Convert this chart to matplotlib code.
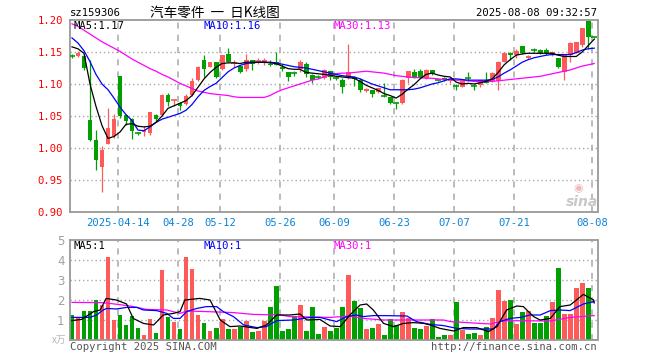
import matplotlib
matplotlib.use("Agg")
import matplotlib.pyplot as plt
import numpy as np

W, H = 660, 360

# ---- daily candles (index 0 = first bar on chart) ----
opens = [1.145, 1.143, 1.143, 1.044, 1.012, 0.971, 1.007, 1.018, 1.112, 1.052,
         1.045, 1.024, 1.025, 1.023, 1.052, 1.052, 1.083, 1.074, 1.071, 1.069,
         1.083, 1.106, 1.137, 1.127, 1.134, 1.123, 1.147, 1.132, 1.128, 1.123,
         1.137, 1.135, 1.134, 1.132, 1.134, 1.127, 1.119, 1.118, 1.123, 1.131,
         1.114, 1.112, 1.109, 1.120, 1.111, 1.107, 1.109, 1.111, 1.107, 1.089,
         1.091, 1.087, 1.083, 1.079, 1.071, 1.071, 1.109, 1.119, 1.121, 1.110,
         1.122, 1.107, 1.109, 1.104, 1.098, 1.096, 1.110, 1.098, 1.098, 1.106,
         1.104, 1.104, 1.135, 1.149, 1.145, 1.160, 1.140, 1.154, 1.153, 1.153,
         1.145, 1.140, 1.119, 1.145, 1.149, 1.161, 1.199, 1.174]
highs = [1.147, 1.152, 1.146, 1.137, 1.028, 1.003, 1.063, 1.053, 1.112, 1.053,
         1.047, 1.025, 1.034, 1.057, 1.053, 1.085, 1.086, 1.077, 1.072, 1.085,
         1.109, 1.128, 1.145, 1.135, 1.135, 1.146, 1.156, 1.137, 1.130, 1.147,
         1.138, 1.140, 1.140, 1.137, 1.150, 1.131, 1.119, 1.121, 1.138, 1.134,
         1.116, 1.114, 1.123, 1.121, 1.112, 1.109, 1.1625, 1.112, 1.109, 1.093,
         1.091, 1.094, 1.101, 1.080, 1.072, 1.108, 1.120, 1.123, 1.124, 1.123,
         1.122, 1.108, 1.111, 1.108, 1.100, 1.105, 1.119, 1.100, 1.107, 1.118,
         1.118, 1.136, 1.150, 1.150, 1.155, 1.160, 1.145, 1.156, 1.154, 1.157,
         1.151, 1.141, 1.146, 1.165, 1.166, 1.188, 1.200, 1.174]
lows = [1.140, 1.142, 1.122, 1.011, 0.965, 0.932, 1.006, 1.016, 1.047, 1.036,
        1.014, 1.021, 1.019, 1.021, 1.040, 1.050, 1.066, 1.066, 1.060, 1.067,
        1.081, 1.104, 1.111, 1.126, 1.110, 1.122, 1.134, 1.127, 1.117, 1.121,
        1.122, 1.132, 1.130, 1.128, 1.130, 1.120, 1.105, 1.113, 1.119, 1.111,
        1.102, 1.108, 1.108, 1.107, 1.106, 1.086, 1.108, 1.097, 1.088, 1.088,
        1.080, 1.086, 1.079, 1.068, 1.061, 1.069, 1.102, 1.109, 1.110, 1.108,
        1.114, 1.104, 1.105, 1.102, 1.091, 1.095, 1.104, 1.091, 1.096, 1.101,
        1.103, 1.091, 1.134, 1.138, 1.141, 1.147, 1.139, 1.150, 1.147, 1.145,
        1.144, 1.125, 1.106, 1.135, 1.148, 1.158, 1.154, 1.172]
closes = [1.144, 1.149, 1.125, 1.013, 0.981, 0.997, 1.031, 1.045, 1.050, 1.042,
          1.026, 1.023, 1.028, 1.056, 1.045, 1.083, 1.072, 1.075, 1.066, 1.081,
          1.104, 1.127, 1.123, 1.134, 1.111, 1.145, 1.134, 1.134, 1.118, 1.137,
          1.132, 1.136, 1.137, 1.129, 1.130, 1.123, 1.111, 1.116, 1.135, 1.115,
          1.106, 1.111, 1.122, 1.111, 1.109, 1.096, 1.118, 1.108, 1.090, 1.092,
          1.084, 1.093, 1.081, 1.070, 1.069, 1.106, 1.120, 1.110, 1.111, 1.122,
          1.117, 1.105, 1.106, 1.107, 1.096, 1.104, 1.108, 1.096, 1.106, 1.102,
          1.117, 1.135, 1.149, 1.145, 1.152, 1.148, 1.144, 1.152, 1.148, 1.148,
          1.150, 1.127, 1.145, 1.164, 1.165, 1.187, 1.174, 1.173]

# price moving averages
ma5 = [1.158, 1.155, 1.148, 1.100, 1.065, 1.035, 1.015, 1.018, 1.025, 1.037,
       1.038, 1.034, 1.033, 1.034, 1.040, 1.050, 1.062, 1.066, 1.070, 1.074,
       1.082, 1.095, 1.108, 1.118, 1.126, 1.132, 1.133, 1.133, 1.132, 1.134,
       1.134, 1.134, 1.134, 1.133, 1.132, 1.128, 1.124, 1.123, 1.123, 1.118,
       1.117, 1.116, 1.115, 1.114, 1.112, 1.111, 1.110, 1.109, 1.104, 1.098,
       1.094, 1.090, 1.085, 1.082, 1.078, 1.084, 1.092, 1.099, 1.108, 1.115,
       1.117, 1.114, 1.112, 1.111, 1.103, 1.100, 1.101, 1.100, 1.102, 1.104,
       1.108, 1.118, 1.130, 1.138, 1.145, 1.147, 1.148, 1.148, 1.148, 1.148,
       1.148, 1.145, 1.143, 1.143, 1.143, 1.150, 1.160, 1.170]
ma10 = [1.172, 1.164, 1.152, 1.135, 1.115, 1.100, 1.091, 1.078, 1.064, 1.052,
        1.043, 1.028, 1.027, 1.033, 1.040, 1.045, 1.048, 1.051, 1.054, 1.059,
        1.068, 1.080, 1.090, 1.096, 1.101, 1.110, 1.119, 1.125, 1.129, 1.132,
        1.133, 1.134, 1.134, 1.134, 1.133, 1.131, 1.129, 1.127, 1.126, 1.125,
        1.123, 1.121, 1.119, 1.117, 1.115, 1.113, 1.112, 1.111, 1.108, 1.104,
        1.100, 1.097, 1.094, 1.091, 1.091, 1.091, 1.091, 1.092, 1.094, 1.097,
        1.100, 1.102, 1.105, 1.108, 1.108, 1.107, 1.106, 1.106, 1.106, 1.106,
        1.107, 1.111, 1.117, 1.122, 1.128, 1.134, 1.138, 1.141, 1.143, 1.145,
        1.146, 1.146, 1.146, 1.146, 1.149, 1.153, 1.155, 1.156]
ma30 = [1.194, 1.190, 1.184, 1.178, 1.172, 1.166, 1.161, 1.156, 1.151, 1.145,
        1.139, 1.134, 1.129, 1.124, 1.120, 1.115, 1.111, 1.106, 1.101, 1.097,
        1.093, 1.089, 1.087, 1.085, 1.084, 1.083, 1.082, 1.080, 1.079, 1.079,
        1.079, 1.079, 1.079, 1.082, 1.087, 1.091, 1.094, 1.097, 1.100, 1.103,
        1.106, 1.108, 1.111, 1.114, 1.116, 1.117, 1.117, 1.118, 1.119, 1.120,
        1.119, 1.118, 1.117, 1.115, 1.113, 1.112, 1.111, 1.110, 1.110, 1.109,
        1.109, 1.108, 1.107, 1.107, 1.106, 1.106, 1.105, 1.104, 1.104, 1.104,
        1.104, 1.105, 1.106, 1.107, 1.108, 1.109, 1.110, 1.111, 1.112, 1.114,
        1.116, 1.118, 1.120, 1.122, 1.125, 1.128, 1.130, 1.132]

# volume (unit on axis = 万)
volume = [1.25, 1.13, 1.47, 1.45, 2.00, 1.75, 4.17, 1.00, 1.25, 0.75,
          1.20, 0.58, 0.25, 1.05, 0.37, 3.50, 1.13, 0.92, 0.55, 4.17,
          3.55, 1.25, 0.87, 0.45, 0.62, 1.05, 0.55, 0.55, 0.67, 0.95,
          0.42, 0.45, 0.95, 1.67, 2.70, 0.45, 0.55, 1.22, 1.75, 0.45,
          1.63, 0.28, 0.67, 0.45, 0.62, 1.67, 3.25, 1.95, 1.62, 0.55,
          0.62, 0.80, 0.25, 1.05, 0.75, 1.42, 1.12, 0.62, 0.55, 0.72,
          1.03, 0.17, 0.25, 0.25, 1.92, 0.50, 0.30, 0.33, 0.25, 0.63,
          1.12, 2.50, 1.95, 2.00, 0.80, 1.42, 1.47, 0.87, 0.87, 1.20,
          1.92, 3.62, 1.30, 1.30, 2.62, 2.87, 2.62, 0.05]

# volume moving averages, read as (bar index, value) points
vma5_i = [0, 1.6, 3.6, 4.7, 5.7, 7.4, 9.1, 10.2, 11.9, 13.6, 15.2, 16.9, 18, 18.8,
          21.3, 23, 24.7, 26.3, 28, 30.8, 32.4, 34.1, 36.3, 38, 39.1, 41.3, 43,
          44.7, 46.3, 48, 49.1, 50.2, 51.9, 53.6, 55.2, 56.9, 58.6, 59.7, 61.3,
          63.6, 65.2, 67.4, 69.4, 70.8, 72.4, 74.1, 75.2, 76.9, 78, 79.7, 81.3,
          83, 85.2, 86.9, 87]
vma5_v = [0.97, 1.03, 1.42, 1.50, 2.08, 2.00, 1.80, 1.08, 0.83, 0.75, 1.25, 1.33,
          1.42, 2.00, 2.08, 2.00, 1.00, 0.67, 0.70, 0.58, 0.75, 1.25, 1.25, 1.30,
          1.00, 1.03, 0.70, 0.67, 1.25, 1.75, 1.80, 1.50, 0.83, 0.67, 0.83, 0.87,
          0.83, 0.75, 0.58, 0.45, 0.62, 0.62, 0.42, 0.67, 1.50, 1.70, 1.67, 1.17,
          1.00, 1.08, 1.67, 1.75, 2.28, 2.00, 1.90]
vma10_i = [0, 3, 4.1, 5.2, 5.8, 7.4, 9.1, 10.8, 11.9, 14.1, 15.8, 16.9, 18, 19.1,
           20.8, 22.4, 24.1, 25.2, 26.9, 28.6, 30.8, 32.4, 34.1, 36.9, 39.7, 41.3,
           43, 44.1, 45.8, 47.4, 48.5, 50.2, 51.9, 55.8, 57.4, 59.7, 61.9, 64.1,
           66.3, 68.6, 70.2, 71.3, 73, 74.7, 76.3, 78, 79.7, 81.3, 83, 85.2, 86.9, 87]
vma10_v = [1.13, 1.13, 1.25, 1.50, 1.58, 1.55, 1.63, 1.63, 1.50, 1.47, 1.33, 1.08,
           1.08, 1.42, 1.58, 1.67, 1.67, 1.42, 1.17, 0.75, 0.62, 0.67, 0.97, 1.00,
           1.13, 1.13, 1.00, 0.92, 1.17, 1.25, 1.17, 1.22, 1.22, 1.20, 0.92, 0.78,
           0.72, 0.58, 0.55, 0.55, 0.55, 0.92, 1.08, 1.13, 1.25, 1.25, 1.47, 1.50,
           1.47, 1.80, 1.92, 1.85]
vma30_i = [0, 4.7, 6.3, 9.7, 12.4, 15.8, 18, 19.1, 22.4, 26.9, 30.2, 34.7, 36.3,
           43, 46.3, 48.5, 51.9, 61.9, 63, 69.7, 71.9, 79.7, 83, 87]
vma30_v = [1.88, 1.87, 1.83, 1.70, 1.53, 1.50, 1.33, 1.45, 1.42, 1.37, 1.28, 1.25,
           1.17, 1.13, 1.20, 1.08, 1.00, 1.00, 0.92, 0.80, 0.97, 0.95, 1.13, 1.22]

date_idx = [8, 18, 25, 35, 44, 54, 64, 74, 87]
date_labels = ["2025-04-14", "04-28", "05-12", "05-26", "06-09",
               "06-23", "07-07", "07-21", "08-08"]
price_ticks = [0.90, 0.95, 1.00, 1.05, 1.10, 1.15, 1.20]
vol_ticks = [1, 2, 3, 4, 5]

RED = "#ff5a5a"
GREEN = "#00a000"
GRID = "#a8a8a8"
FRAME = "#999999"
MONO = "DejaVu Sans Mono"
CJK = ["Noto Sans CJK SC", "DejaVu Sans"]


def fx(x):
    return x / W


def fy(y):
    return 1 - y / H


def style_axes(ax):
    for s in ax.spines.values():
        s.set_color(FRAME)
        s.set_linewidth(1.3)
    ax.set_xlim(-0.33, 87.55)
    for d in date_idx:
        ax.axvline(d - 0.3, color=GRID, lw=1.1, ls=(0, (4, 4)), zorder=0.5)


def main() -> None:
    fig = plt.figure(figsize=(W / 100, H / 100), dpi=100)
    fig.patch.set_facecolor("white")

    ax = fig.add_axes([fx(70), fy(212), fx(597.5 - 70), 192 / H])
    axv = fig.add_axes([fx(70), fy(340), fx(597.5 - 70), 100 / H])

    n = len(closes)
    xs = np.arange(n)

    # ---- price panel ----
    style_axes(ax)
    ax.set_ylim(0.90, 1.20)
    for p in price_ticks[1:-1]:
        ax.axhline(p, color=GRID, lw=1.0, ls=(0, (1, 2)), zorder=0.5)

    for i in range(n):
        o, h, l, c = opens[i], highs[i], lows[i], closes[i]
        col = RED if c > o else GREEN
        ax.vlines(xs[i], l, h, color=col, lw=0.9, zorder=2)
        body = abs(c - o)
        if body < 0.0025:
            ax.hlines((o + c) / 2, xs[i] - 0.45, xs[i] + 0.45, color=col, lw=1.2, zorder=3)
        else:
            ax.bar(xs[i], body, bottom=min(o, c), width=0.82, color=col, lw=0, zorder=3)

    ax.plot(xs, ma30, color="#ff00ff", lw=0.9, zorder=4)
    ax.plot(xs, ma10, color="#0000ff", lw=0.9, zorder=4)
    ax.plot(xs, ma5, color="black", lw=0.9, zorder=4)

    ax.set_yticks(price_ticks)
    ax.set_yticklabels([f"{p:.2f}" for p in price_ticks], color="#ff0000",
                       fontfamily=MONO, fontsize=7.6)
    ax.set_xticks([d - 0.3 for d in date_idx])
    ax.set_xticklabels(date_labels, color="#0a84d6", fontfamily=MONO, fontsize=7.6)
    ax.tick_params(axis="both", length=0)
    ax.tick_params(axis="y", pad=5)
    ax.tick_params(axis="x", pad=4)

    # ---- volume panel ----
    style_axes(axv)
    axv.set_ylim(0, 5)
    for v in vol_ticks[:-1]:
        axv.axhline(v, color=GRID, lw=1.0, ls=(0, (1, 2)), zorder=0.5)
    vcols = [RED if closes[i] > opens[i] else GREEN for i in range(n)]
    axv.bar(xs, volume, width=0.82, color=vcols, lw=0, zorder=2)
    axv.plot(vma30_i, vma30_v, color="#ff00ff", lw=0.9, zorder=3)
    axv.plot(vma10_i, vma10_v, color="#0000ff", lw=0.9, zorder=3)
    axv.plot(vma5_i, vma5_v, color="black", lw=0.9, zorder=3)
    axv.set_yticks(vol_ticks)
    axv.set_yticklabels([str(v) for v in vol_ticks], color="#a0a0a0", fontsize=8.5)
    axv.set_xticks([])
    axv.tick_params(axis="y", length=0, pad=4)

    # ---- texts ----
    fig.text(fx(70), fy(13), "sz159306", fontfamily=MONO, fontsize=7.6,
             va="center", ha="left", color="black")
    fig.text(fx(150), fy(13), "汽车零件  一  日K线图", family=CJK, fontsize=9.8,
             va="center", ha="left", color="black")
    fig.text(fx(597), fy(13), "2025-08-08 09:32:57", fontfamily=MONO, fontsize=7.6,
             va="center", ha="right", color="black")

    fig.text(fx(74), fy(26), "MA5:1.17", fontfamily=MONO, fontsize=7.6,
             va="center", ha="left", color="black")
    fig.text(fx(204), fy(26), "MA10:1.16", fontfamily=MONO, fontsize=7.6,
             va="center", ha="left", color="#0000ff")
    fig.text(fx(334), fy(26), "MA30:1.13", fontfamily=MONO, fontsize=7.6,
             va="center", ha="left", color="#ff00ff")

    fig.text(fx(74), fy(246), "MA5:1", fontfamily=MONO, fontsize=7.6,
             va="center", ha="left", color="black")
    fig.text(fx(204), fy(246), "MA10:1", fontfamily=MONO, fontsize=7.6,
             va="center", ha="left", color="#0000ff")
    fig.text(fx(334), fy(246), "MA30:1", fontfamily=MONO, fontsize=7.6,
             va="center", ha="left", color="#ff00ff")

    fig.text(fx(66), fy(340), "x万", family=CJK, fontsize=7, va="center",
             ha="right", color="#b8b8b8")
    fig.text(fx(70), fy(347), "Copyright 2025 SINA.COM", fontfamily=MONO,
             fontsize=7.6, va="center", ha="left", color="#555555")
    fig.text(fx(597), fy(347), "http://finance.sina.com.cn", fontfamily=MONO,
             fontsize=7.6, va="center", ha="right", color="#555555")

    # sina watermark
    fig.text(fx(582), fy(202), "sina", fontsize=10, fontweight="bold",
             fontstyle="italic", color="#c8c8c8", ha="center", va="center")
    fig.text(fx(578), fy(188), "◉", fontsize=8, color="#f0b8b8",
             ha="center", va="center")

    fig.savefig("out.png", dpi=100)
    plt.close(fig)


if __name__ == "__main__":
    main()
